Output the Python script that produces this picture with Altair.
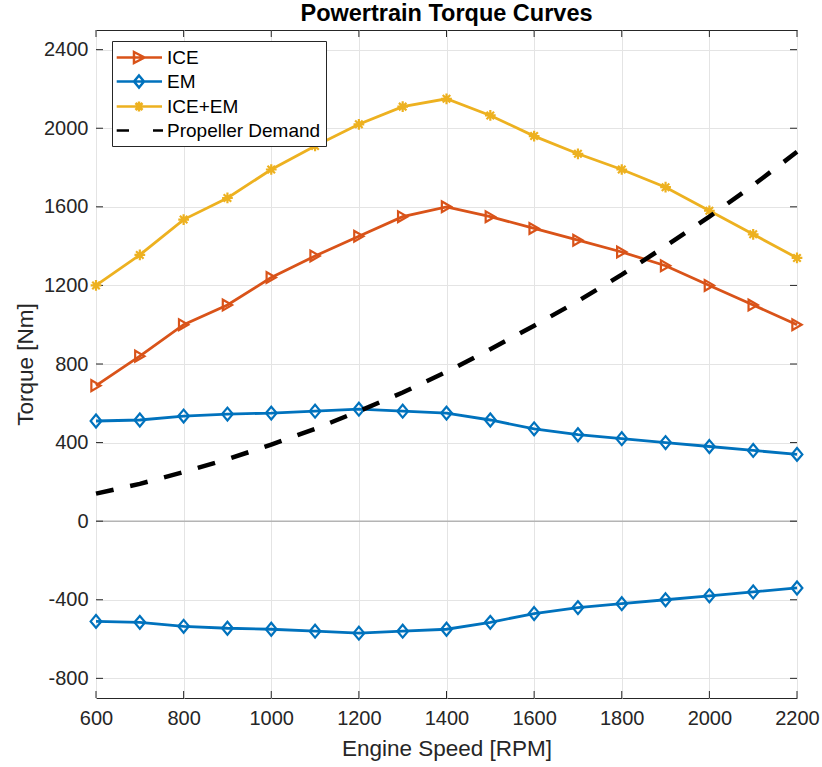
import altair as alt
import pandas as pd

# Engine speed samples [RPM]
RPM = [600, 700, 800, 900, 1000, 1100, 1200, 1300, 1400,
       1500, 1600, 1700, 1800, 1900, 2000, 2100, 2200]

# Torque curves [Nm]
ICE_TORQUE = [690, 840, 1000, 1100, 1240, 1350, 1450, 1550, 1600,
              1550, 1490, 1430, 1370, 1300, 1200, 1100, 1000]
EM_MOTORING = [510, 515, 535, 545, 550, 560, 570, 560, 550,
               515, 470, 440, 420, 400, 380, 360, 340]
EM_GENERATING = [-510, -515, -535, -545, -550, -560, -570, -560, -550,
                 -515, -470, -440, -420, -400, -380, -360, -340]
COMBINED = [1200, 1355, 1535, 1645, 1790, 1910, 2020, 2110, 2150,
            2065, 1960, 1870, 1790, 1700, 1580, 1460, 1340]
PROPELLER = [140, 190, 250, 315, 390, 470, 560, 655, 760,
             875, 995, 1120, 1255, 1400, 1550, 1710, 1880]

X_TICKS = [600, 800, 1000, 1200, 1400, 1600, 1800, 2000, 2200]
Y_TICKS = [-800, -400, 0, 400, 800, 1200, 1600, 2000, 2400]

SERIES = ["ICE", "EM", "ICE+EM", "Propeller Demand"]
COLORS = ["#D95319", "#0072BD", "#EDB120", "#000000"]
C_ICE, C_EM, C_SUM, C_PROP = COLORS

FONT = "Liberation Sans"
INK = "#262626"
W, H = 701, 668

def frame(values):
    return pd.DataFrame({"rpm": RPM, "torque": values})

# marker paths (unit coordinates)
DIAMOND = "M0,-1.2L1,0L0,1.2L-1,0Z"
ASTERISK = "M-1,0L1,0M0,-1L0,1M-0.7,-0.7L0.7,0.7M-0.7,0.7L0.7,-0.7"

# legend glyphs: line segment plus marker, 10 px per unit at size 400
def seg(a, b):
    return f"M{a},0L{b},0"

L0, L1, MC = -1.18, 3.35, 1.05
LEG_ICE = seg(L0, L1) + f"M{MC-0.5},-0.55L{MC+0.55},0L{MC-0.5},0.55Z"
LEG_EM = seg(L0, L1) + f"M{MC},-0.6L{MC+0.5},0L{MC},0.6L{MC-0.5},0Z"
LEG_SUM = seg(L0, L1) + (f"M{MC-0.5},0L{MC+0.5},0M{MC},-0.5L{MC},0.5"
                         f"M{MC-0.35},-0.35L{MC+0.35},0.35M{MC-0.35},0.35L{MC+0.35},-0.35")
LEG_PROP = seg(L0, 0.05) + seg(2.45, 3.45)

x_scale = alt.Scale(domain=[600, 2200], nice=False, zero=False)
y_scale = alt.Scale(domain=[-900, 2500], nice=False, zero=False)
grid_color = "#e4e4e4"

axis_text = dict(
    labelFont=FONT,
    labelFontSize=20,
    labelColor=INK,
    labelFlush=False,
    labelExpr="toString(datum.value)",
    titleFont=FONT,
    titleFontSize=22.5,
    titleFontWeight="normal",
    titleColor=INK,
    tickSize=0,
    grid=True,
    gridColor=grid_color,
    domain=False,
)

x_enc = alt.X(
    "rpm:Q",
    scale=x_scale,
    axis=alt.Axis(
        title="Engine Speed [RPM]",
        values=X_TICKS,
        labelPadding=10,
        titlePadding=9,
        **axis_text,
    ),
)
y_enc = alt.Y(
    "torque:Q",
    scale=y_scale,
    axis=alt.Axis(
        title="Torque [Nm]",
        values=Y_TICKS,
        labelPadding=8,
        titlePadding=6,
        **axis_text,
    ),
)

zero_line = alt.Chart(pd.DataFrame({"torque": [0]})).mark_rule(
    color="#b4b4b4", strokeWidth=1.5
).encode(y=y_enc)

def curve(values, color, shape):
    base = alt.Chart(frame(values)).encode(x=x_enc, y=y_enc, order="rpm:Q")
    line = base.mark_line(color=color, strokeWidth=2.8)
    pts = base.mark_point(color=color, shape=shape, filled=False,
                          strokeWidth=2.2, size=115, opacity=1)
    return [line, pts]

layers_ice = curve(ICE_TORQUE, C_ICE, "triangle-right")
layers_em_pos = curve(EM_MOTORING, C_EM, DIAMOND)
layers_em_neg = curve(EM_GENERATING, C_EM, DIAMOND)
layers_sum = curve(COMBINED, C_SUM, ASTERISK)

prop_line = alt.Chart(frame(PROPELLER)).mark_line(
    color=C_PROP, strokeWidth=4.5, strokeDash=[18, 17]
).encode(x=x_enc, y=y_enc, order="rpm:Q")

# legend: carries only the scales, draws no marks of its own
legend_layer = alt.Chart(pd.DataFrame({"series": SERIES})).transform_filter(
    "false"
).mark_point(filled=False, size=400, opacity=1).encode(
    color=alt.Color(
        "series:N",
        scale=alt.Scale(domain=SERIES, range=COLORS),
        legend=alt.Legend(
            title=None,
            orient="none",
            legendX=16,
            legendY=11,
            padding=5,
            rowPadding=2,
            labelOffset=27,
            labelFont=FONT,
            labelFontSize=19,
            labelColor="black",
            labelLimit=300,
            strokeColor=INK,
            fillColor="white",
            cornerRadius=0,
            symbolSize=400,
            symbolOpacity=1,
            symbolFillColor="transparent",
        ),
    ),
    shape=alt.Shape(
        "series:N",
        scale=alt.Scale(domain=SERIES,
                        range=[LEG_ICE, LEG_EM, LEG_SUM, LEG_PROP]),
    ),
    strokeWidth=alt.StrokeWidth(
        "series:N",
        scale=alt.Scale(domain=SERIES, range=[2.5, 2.5, 2.5, 4.5]),
    ),
)

# inward tick marks on all four sides of the box
xt = alt.Chart(pd.DataFrame({"rpm": X_TICKS}))
yt = alt.Chart(pd.DataFrame({"torque": Y_TICKS}))
tick_style = dict(color=INK, strokeWidth=1)
ticks = [
    xt.mark_rule(**tick_style).encode(x=x_enc, y=alt.value(H), y2=alt.value(H - 7)),
    xt.mark_rule(**tick_style).encode(x=x_enc, y=alt.value(0), y2=alt.value(7)),
    yt.mark_rule(**tick_style).encode(y=y_enc, x=alt.value(0), x2=alt.value(7)),
    yt.mark_rule(**tick_style).encode(y=y_enc, x=alt.value(W), x2=alt.value(W - 7)),
]

chart = alt.layer(
    zero_line, *ticks,
    *layers_ice, *layers_em_pos, *layers_em_neg, *layers_sum,
    prop_line, legend_layer,
).properties(
    width=W,
    height=H,
    background="white",
    title=alt.TitleParams(
        "Powertrain Torque Curves",
        font=FONT,
        fontSize=23.5,
        fontWeight="bold",
        color="black",
        anchor="middle",
        offset=4,
    ),
    autosize=alt.AutoSizeParams(type="none"),
    padding={"left": 96, "top": 30, "right": 25, "bottom": 69},
).configure_view(
    stroke=INK, strokeWidth=1
)

chart.save("out.html", embed_options={"renderer": "svg", "actions": False})
